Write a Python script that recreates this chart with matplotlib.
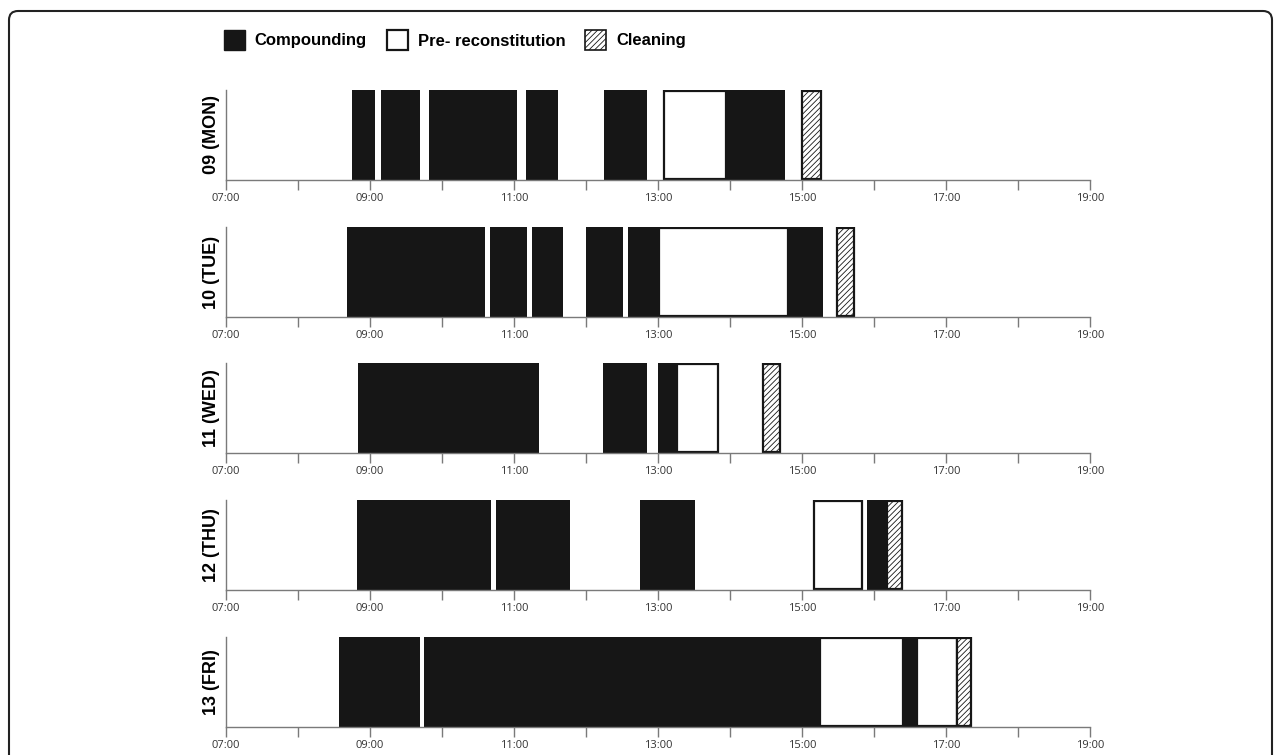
import matplotlib
matplotlib.use("Agg")
import matplotlib.pyplot as plt
from matplotlib.patches import Patch, FancyBboxPatch

# czasy w godzinach dziesiętnych (start, koniec)
days = ["09 (MON)", "10 (TUE)", "11 (WED)", "12 (THU)", "13 (FRI)"]

compounding = [
    [(8.75, 9.07), (9.15, 9.70), (9.82, 11.04), (11.17, 11.61), (12.25, 12.85), (13.95, 14.77)],
    [(8.68, 10.60), (10.66, 11.18), (11.25, 11.68), (12.00, 12.52), (12.58, 13.02), (14.80, 15.29)],
    [(8.83, 11.35), (12.24, 12.85), (13.00, 13.26)],
    [(8.82, 10.68), (10.75, 11.78), (12.75, 13.52), (15.90, 16.18)],
    [(8.57, 9.69), (9.75, 15.25), (16.40, 16.60)],
]
pre_reconstitution = [
    [(13.08, 13.95)],
    [(13.02, 14.80)],
    [(13.26, 13.83)],
    [(15.17, 15.84)],
    [(15.25, 16.40), (16.60, 17.15)],
]
cleaning = [
    [(15.00, 15.26)],
    [(15.49, 15.72)],
    [(14.46, 14.69)],
    [(16.18, 16.39)],
    [(17.15, 17.35)],
]

hours = list(range(7, 20))
hour_labels = ["%02d:00" % h if h % 2 == 1 else "" for h in hours]

black = "#161616"
grey = "#7a7a7a"

plt.rcParams["hatch.linewidth"] = 0.6

fig = plt.figure(figsize=(12.81, 7.55), dpi=100)
W, H = 1281, 755

# ramka wokół całego rysunku
frame = FancyBboxPatch((0.09, -1.0), 12.63, 8.44, boxstyle="round,pad=0,rounding_size=0.09",
                       transform=fig.dpi_scale_trans, facecolor="none", edgecolor="#222222",
                       linewidth=1.5)
fig.patches.append(frame)

left, width = 226 / W, 864 / W
tops = [90, 227, 363, 500, 637]
height_px = 90

for i, day in enumerate(days):
    ax = fig.add_axes([left, 1 - (tops[i] + height_px) / H, width, height_px / H])
    for s, e in compounding[i]:
        ax.barh(0.5, e - s, left=s, height=1.0, color=black, edgecolor="none")
    for s, e in pre_reconstitution[i]:
        ax.barh(0.5, e - s, left=s, height=0.98, color="white", edgecolor=black, linewidth=1.6)
    for s, e in cleaning[i]:
        ax.barh(0.5, e - s, left=s, height=0.98, color="white", edgecolor=black, linewidth=1.6,
                hatch="//////")
    ax.set_xlim(7, 19)
    ax.set_ylim(0, 1.0)
    ax.set_xticks(hours)
    ax.set_xticklabels(hour_labels, fontsize=8, color="#333333", family="Open Sans")
    ax.tick_params(axis="x", direction="out", length=7.5, width=1, color=grey, pad=2)
    ax.set_yticks([])
    for side in ["top", "right"]:
        ax.spines[side].set_visible(False)
    for side in ["left", "bottom"]:
        ax.spines[side].set_color(grey)
        ax.spines[side].set_linewidth(1)
    ax.text(-0.017, 0.5, day, transform=ax.transAxes, rotation=90, ha="center", va="center",
            fontsize=13, fontweight="bold", family="Liberation Sans")

handles = [
    Patch(facecolor=black, edgecolor=black),
    Patch(facecolor="white", edgecolor=black, linewidth=1.6),
    Patch(facecolor="white", edgecolor=black, linewidth=1.2, hatch="//////"),
]
fig.legend(handles, ["Compounding", "Pre- reconstitution", "Cleaning"], loc="center",
           bbox_to_anchor=(455 / W, 1 - 40 / H), ncol=3, frameon=False,
           prop={"family": "Liberation Sans", "weight": "bold", "size": 12},
           handlelength=1.25, handleheight=1.5, handletextpad=0.6, columnspacing=1.2)

fig.savefig("out.png", dpi=100)
